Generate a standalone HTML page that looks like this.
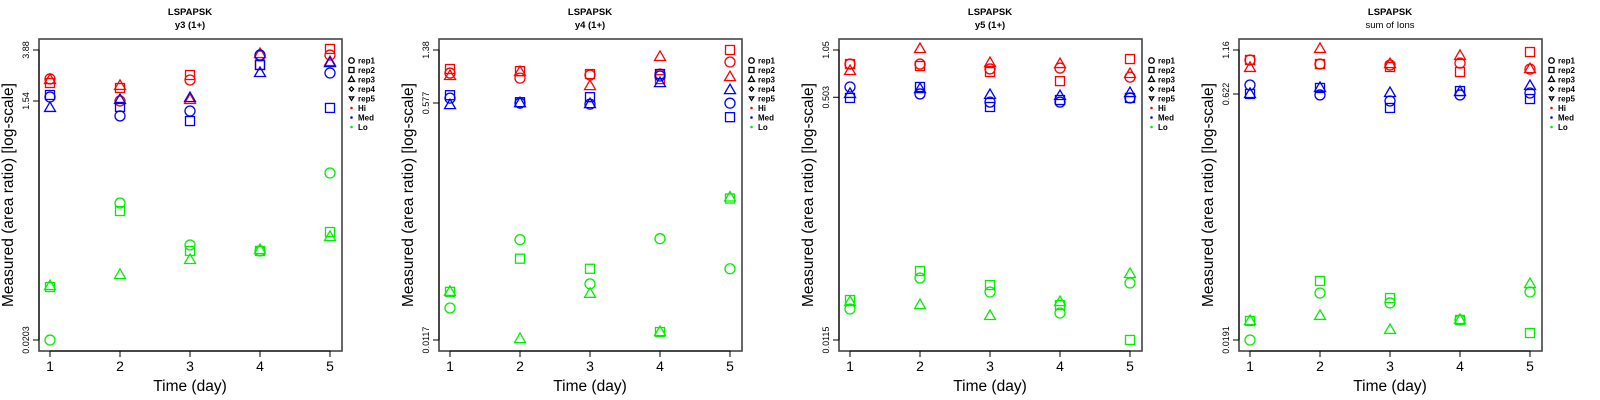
<!DOCTYPE html>
<html><head><meta charset="utf-8"><style>
html,body{margin:0;padding:0;background:#fff;}
svg{display:block;font-family:"Liberation Sans",Arial,sans-serif;}
</style></head><body>
<svg id="chart" width="1600" height="400" viewBox="0 0 1600 400" xmlns="http://www.w3.org/2000/svg"></svg>
<script>
// Shared categories
const days = [1, 2, 3, 4, 5];
const groups = ["Hi", "Med", "Lo"];
const reps = ["rep1", "rep2", "rep3"];
const panelTitles = ["y3 (1+)", "y4 (1+)", "y5 (1+)", "sum of Ions"];
const topTicks = [3.88, 1.38, 1.05, 1.16];
const midTicks = [1.54, 0.577, 0.503, 0.622];
const botTicks = [0.0203, 0.0117, 0.0115, 0.0191];
// log10(area ratio) per panel, group, rep (by day)
const p1HiRep1 = [0.361, 0.188, 0.353, 0.542, 0.549];
const p1HiRep2 = [0.329, 0.290, 0.392, 0.471, 0.597];
const p1HiRep3 = [0.353, 0.306, 0.196, 0.557, 0.494];
const p1MedRep1 = [0.219, 0.070, 0.109, 0.549, 0.408];
const p1MedRep2 = [0.235, 0.141, 0.030, 0.471, 0.133];
const p1MedRep3 = [0.133, 0.196, 0.211, 0.408, 0.486];
const p1LoRep1 = [-1.693, -0.615, -0.945, -0.992, -0.379];
const p1LoRep2 = [-1.276, -0.678, -0.992, -0.992, -0.843];
const p1LoRep3 = [-1.268, -1.181, -1.063, -0.985, -0.882];
const p2HiRep1 = [-0.025, -0.061, -0.039, -0.032, 0.054];
const p2HiRep2 = [0.004, -0.011, -0.032, -0.068, 0.140];
const p2HiRep3 = [-0.046, -0.018, -0.118, 0.090, -0.054];
const p2MedRep1 = [-0.204, -0.240, -0.247, -0.046, -0.240];
const p2MedRep2 = [-0.183, -0.233, -0.197, -0.032, -0.340];
const p2MedRep3 = [-0.254, -0.240, -0.247, -0.097, -0.147];
const p2LoRep1 = [-1.703, -1.215, -1.531, -1.208, -1.423];
const p2LoRep2 = [-1.588, -1.351, -1.423, -1.875, -0.921];
const p2LoRep3 = [-1.588, -1.925, -1.602, -1.875, -0.914];
const p3HiRep1 = [-0.074, -0.074, -0.107, -0.101, -0.162];
const p3HiRep2 = [-0.074, -0.087, -0.128, -0.189, -0.040];
const p3HiRep3 = [-0.121, 0.028, -0.067, -0.074, -0.141];
const p3MedRep1 = [-0.229, -0.276, -0.331, -0.331, -0.303];
const p3MedRep2 = [-0.303, -0.229, -0.364, -0.317, -0.303];
const p3MedRep3 = [-0.276, -0.243, -0.283, -0.290, -0.270];
const p3LoRep1 = [-1.730, -1.520, -1.615, -1.757, -1.554];
const p3LoRep2 = [-1.669, -1.473, -1.568, -1.703, -1.939];
const p3LoRep3 = [-1.683, -1.703, -1.777, -1.683, -1.493];
const p4HiRep1 = [0.003, -0.022, -0.028, -0.016, -0.053];
const p4HiRep2 = [0.003, -0.022, -0.040, -0.071, 0.052];
const p4HiRep3 = [-0.046, 0.071, -0.022, 0.028, -0.053];
const p4MedRep1 = [-0.151, -0.212, -0.249, -0.212, -0.200];
const p4MedRep2 = [-0.206, -0.169, -0.292, -0.188, -0.237];
const p4MedRep3 = [-0.206, -0.169, -0.200, -0.194, -0.157];
const p4LoRep1 = [-1.719, -1.430, -1.491, -1.596, -1.424];
const p4LoRep2 = [-1.602, -1.356, -1.461, -1.596, -1.676];
const p4LoRep3 = [-1.602, -1.571, -1.657, -1.596, -1.375];

const panelData = [
  [[p1HiRep1,p1HiRep2,p1HiRep3],[p1MedRep1,p1MedRep2,p1MedRep3],[p1LoRep1,p1LoRep2,p1LoRep3]],
  [[p2HiRep1,p2HiRep2,p2HiRep3],[p2MedRep1,p2MedRep2,p2MedRep3],[p2LoRep1,p2LoRep2,p2LoRep3]],
  [[p3HiRep1,p3HiRep2,p3HiRep3],[p3MedRep1,p3MedRep2,p3MedRep3],[p3LoRep1,p3LoRep2,p3LoRep3]],
  [[p4HiRep1,p4HiRep2,p4HiRep3],[p4MedRep1,p4MedRep2,p4MedRep3],[p4LoRep1,p4LoRep2,p4LoRep3]]
];
const colors = {Hi:"#ff0000", Med:"#0000ff", Lo:"#00ee00"};
const NS = "http://www.w3.org/2000/svg";
const svg = document.getElementById("chart");
function mk(tag, attrs, parent){
  const e = document.createElementNS(NS, tag);
  for (const k in attrs) e.setAttribute(k, attrs[k]);
  (parent||svg).appendChild(e);
  return e;
}
function marker(shape, cx, cy, color, parent, sz){
  const s = sz||1;
  let el;
  if (shape===0) el = mk("circle",{cx:cx,cy:cy,r:5*s,fill:"none",stroke:color,"stroke-width":1.3},parent);
  else if (shape===1) el = mk("rect",{x:cx-4.5*s,y:cy-4.5*s,width:9*s,height:9*s,fill:"none",stroke:color,"stroke-width":1.3},parent);
  else if (shape===2) el = mk("polygon",{points:`${cx},${cy-6*s} ${cx-5.5*s},${cy+3.5*s} ${cx+5.5*s},${cy+3.5*s}`,fill:"none",stroke:color,"stroke-width":1.3},parent);
  else if (shape===3) el = mk("polygon",{points:`${cx},${cy-4*s} ${cx+4*s},${cy} ${cx},${cy+4*s} ${cx-4*s},${cy}`,fill:"none",stroke:color,"stroke-width":1.3},parent);
  else el = mk("polygon",{points:`${cx},${cy+3.5*s} ${cx-4*s},${cy-3*s} ${cx+4*s},${cy-3*s}`,fill:"none",stroke:color,"stroke-width":1.3},parent);
  return el;
}

for (let p=0; p<4; p++){
  const ox = 400*p;
  const g = mk("g",{});
  
  
  const yTop = Math.log10(topTicks[p]), yBot = Math.log10(botTicks[p]);
  const xScale = d => ox + 50 + (d-1)*70;
  const yScale = v => 50 + (yTop - v)/(yTop - yBot)*290;

  const t1 = mk("text",{x:ox+190,y:15,"text-anchor":"middle","font-size":"9.5","font-weight":"bold"},g);
  t1.textContent = "LSPAPSK";
  
  
  const t2 = mk("text",{x:ox+190,y:28,"text-anchor":"middle","font-size":"9.5","font-weight":p<3?"bold":"normal"},g);
  t2.textContent = panelTitles[p];
  
  

  const box = mk("rect",{x:ox+39,y:39,width:303,height:312,fill:"none",stroke:"#444","stroke-width":1.6},g);
  
  

  // x axis
  const xa = mk("g",{},g);
  
  
  mk("line",{x1:xScale(1),x2:xScale(5),y1:351,y2:351,stroke:"#000","stroke-width":1},xa);
  days.forEach(d=>{
    mk("line",{x1:xScale(d),x2:xScale(d),y1:351,y2:357,stroke:"#000","stroke-width":1},xa);
    const tl = mk("text",{x:xScale(d),y:371,"text-anchor":"middle","font-size":"14"},xa);
    tl.textContent = d;
    
    
  });
  const xt = mk("text",{x:ox+190,y:391,"text-anchor":"middle","font-size":"15.5"},g);
  xt.textContent = "Time (day)";
  
  

  // y axis
  const ya = mk("g",{},g);
  
  
  const ticks = [topTicks[p], midTicks[p], botTicks[p]];
  mk("line",{x1:ox+39,x2:ox+39,y1:yScale(yTop),y2:yScale(yBot),stroke:"#000","stroke-width":1},ya);
  ticks.forEach(t=>{
    const y = yScale(Math.log10(t));
    mk("line",{x1:ox+33,x2:ox+39,y1:y,y2:y,stroke:"#000","stroke-width":1},ya);
    const tl = mk("text",{x:ox+29,y:y,"text-anchor":"middle","font-size":"9",transform:`rotate(-90 ${ox+29} ${y})`},ya);
    tl.textContent = String(t);
    
    
  });
  const yt = mk("text",{x:ox+13,y:195,"text-anchor":"middle","font-size":"15.5",transform:`rotate(-90 ${ox+13} 195)`},g);
  yt.textContent = "Measured (area ratio) [log-scale]";
  
  

  // points
  groups.forEach((grp, gi)=>{
    reps.forEach((rp, ri)=>{
      const vals = panelData[p][gi][ri];
      vals.forEach((v, di)=>{
        const m = marker(ri, xScale(days[di]), yScale(v), colors[grp], g);
        
        
      });
    });
  });

  // legend
  const lg = mk("g",{},g);
  
  
  const legLabels = ["rep1","rep2","rep3","rep4","rep5","Hi","Med","Lo"];
  legLabels.forEach((lab, i)=>{
    const y = 60.5 + i*9.5;
    const ent = mk("g",{},lg);
    
    
    if (i<5) marker(i, ox+351.5, y, "#000", ent, 0.55);
    else mk("circle",{cx:ox+351.5,cy:y,r:1.3,fill:colors[lab]},ent);
    const tx = mk("text",{x:ox+358,y:y+3,"font-size":"8","font-weight":"bold"},ent);
    tx.textContent = lab;
  });
}
</script>
</body></html>
